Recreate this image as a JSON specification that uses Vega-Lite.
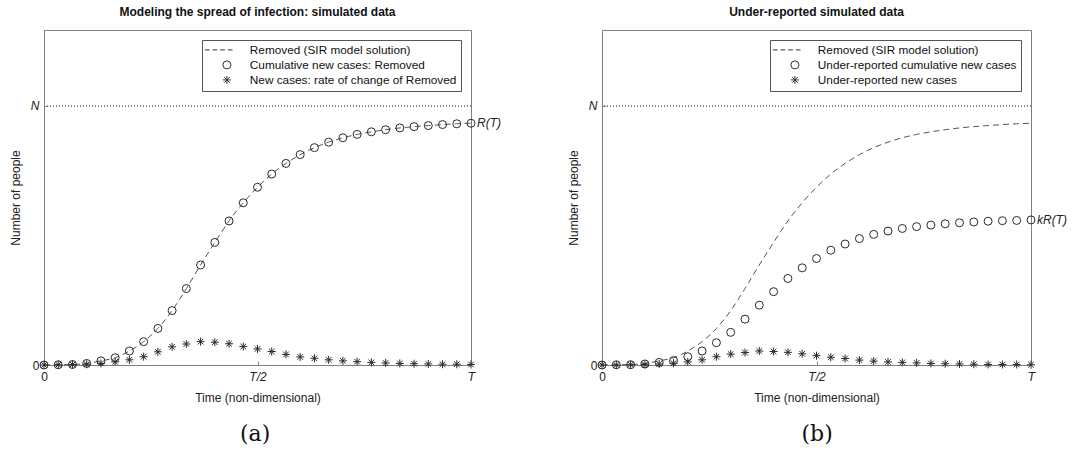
{
  "$schema": "https://vega.github.io/schema/vega-lite/v6.json",
  "padding": {"left": 8, "top": 5, "right": 0, "bottom": 0},
  "background": "white",
  "config": {
    "font": "Liberation Sans",
    "view": {"stroke": "#808080", "strokeWidth": 1},
    "axis": {"domain": false, "grid": false, "ticks": true, "tickColor": "#808080", "tickSize": -4, "labelFontSize": 12, "titleFontSize": 12, "titleFontWeight": "normal", "labelColor": "#222", "titleColor": "#222", "labelFont": "Liberation Sans", "titleFont": "Liberation Sans"},
    "title": {"fontSize": 12, "fontWeight": "bold", "color": "#111", "font": "Liberation Sans", "offset": 11}
  },
  "datasets": {
    "a": [
      {"t":0,"R":0,"C":0,"S":0},{"t":1,"R":0.001,"C":0.001,"S":0.001},{"t":2,"R":0.002,"C":0.002,"S":0.002},{"t":3,"R":0.006,"C":0.006,"S":0.003},{"t":4,"R":0.016,"C":0.016,"S":0.006},{"t":5,"R":0.028,"C":0.028,"S":0.012},{"t":6,"R":0.054,"C":0.054,"S":0.02},{"t":7,"R":0.09,"C":0.09,"S":0.032},{"t":8,"R":0.141,"C":0.141,"S":0.051},{"t":9,"R":0.21,"C":0.21,"S":0.07},{"t":10,"R":0.295,"C":0.295,"S":0.081},{"t":11,"R":0.386,"C":0.386,"S":0.09},{"t":12,"R":0.473,"C":0.473,"S":0.088},{"t":13,"R":0.556,"C":0.556,"S":0.082},{"t":14,"R":0.626,"C":0.626,"S":0.071},{"t":15,"R":0.686,"C":0.686,"S":0.062},{"t":16,"R":0.737,"C":0.737,"S":0.052},{"t":17,"R":0.778,"C":0.778,"S":0.041},{"t":18,"R":0.812,"C":0.812,"S":0.031},{"t":19,"R":0.839,"C":0.839,"S":0.026},{"t":20,"R":0.86,"C":0.86,"S":0.02},{"t":21,"R":0.877,"C":0.877,"S":0.016},{"t":22,"R":0.89,"C":0.89,"S":0.013},{"t":23,"R":0.9,"C":0.9,"S":0.01},{"t":24,"R":0.908,"C":0.908,"S":0.008},{"t":25,"R":0.915,"C":0.915,"S":0.006},{"t":26,"R":0.92,"C":0.92,"S":0.005},{"t":27,"R":0.924,"C":0.924,"S":0.004},{"t":28,"R":0.928,"C":0.928,"S":0.003},{"t":29,"R":0.931,"C":0.931,"S":0.003},{"t":30,"R":0.933,"C":0.933,"S":0.002}
    ],
    "b": [
      {"t":0,"R":0,"C":0,"S":0},{"t":1,"R":0.001,"C":0.001,"S":0},{"t":2,"R":0.002,"C":0.001,"S":0.001},{"t":3,"R":0.006,"C":0.004,"S":0.002},{"t":4,"R":0.016,"C":0.01,"S":0.004},{"t":5,"R":0.028,"C":0.017,"S":0.007},{"t":6,"R":0.054,"C":0.032,"S":0.012},{"t":7,"R":0.09,"C":0.054,"S":0.02},{"t":8,"R":0.141,"C":0.086,"S":0.032},{"t":9,"R":0.21,"C":0.126,"S":0.042},{"t":10,"R":0.295,"C":0.177,"S":0.048},{"t":11,"R":0.386,"C":0.231,"S":0.054},{"t":12,"R":0.473,"C":0.283,"S":0.052},{"t":13,"R":0.556,"C":0.334,"S":0.049},{"t":14,"R":0.626,"C":0.375,"S":0.043},{"t":15,"R":0.686,"C":0.411,"S":0.036},{"t":16,"R":0.737,"C":0.443,"S":0.03},{"t":17,"R":0.778,"C":0.467,"S":0.025},{"t":18,"R":0.812,"C":0.488,"S":0.019},{"t":19,"R":0.839,"C":0.504,"S":0.015},{"t":20,"R":0.86,"C":0.517,"S":0.012},{"t":21,"R":0.877,"C":0.527,"S":0.01},{"t":22,"R":0.89,"C":0.534,"S":0.008},{"t":23,"R":0.9,"C":0.54,"S":0.006},{"t":24,"R":0.908,"C":0.545,"S":0.005},{"t":25,"R":0.915,"C":0.549,"S":0.004},{"t":26,"R":0.92,"C":0.552,"S":0.003},{"t":27,"R":0.924,"C":0.555,"S":0.002},{"t":28,"R":0.928,"C":0.557,"S":0.002},{"t":29,"R":0.931,"C":0.558,"S":0.002},{"t":30,"R":0.933,"C":0.56,"S":0.001}
    ]
  },
  "spacing": 64,
  "resolve": {"scale": {"shape": "independent"}, "legend": {"shape": "independent"}},
  "hconcat": [
    {
      "title": {"text": "(a)", "orient": "bottom", "anchor": "middle", "font": "DejaVu Serif", "fontSize": 22, "fontWeight": "normal", "color": "#111", "offset": 20},
      "resolve": {"scale": {"shape": "independent"}, "legend": {"shape": "independent"}},
      "vconcat": [
        {
          "width": 427, "height": 335,
          "title": {"text": "Modeling the spread of infection: simulated data", "anchor": "middle", "frame": "group"},
          "data": {"name": "a"},
          "layer": [
            {"mark": {"type": "rule", "strokeDash": [1, 2], "color": "#888", "strokeWidth": 1}, "encoding": {"y": {"datum": 1, "type": "quantitative", "scale": {"domain": [0, 1.293], "nice": false}}}},
            {"mark": {"type": "line", "strokeDash": [6, 4], "color": "#555", "strokeWidth": 1, "interpolate": "monotone"},
             "encoding": {
               "x": {"field": "t", "type": "quantitative", "scale": {"domain": [0, 30], "nice": false}, "axis": {"values": [0, 15, 30], "labelExpr": "datum.value == 0 ? '0' : datum.value == 15 ? 'T/2' : 'T'", "labelFontStyle": {"condition": {"test": "datum.value > 0", "value": "italic"}, "value": "normal"}, "labelFlush": false, "labelPadding": 10, "title": "Time (non-dimensional)", "titlePadding": 10}},
               "y": {"field": "R", "type": "quantitative", "scale": {"domain": [0, 1.293], "nice": false}, "axis": {"values": [0, 1], "labelExpr": "datum.value == 0 ? '0' : 'N'", "labelFontStyle": {"condition": {"test": "datum.value == 1", "value": "italic"}, "value": "normal"}, "labelPadding": 9, "title": "Number of people", "titlePadding": 8}}
             }},
            {"transform": [{"fold": ["C", "S"], "as": ["k", "v"]}],
             "mark": {"type": "point", "filled": false, "strokeWidth": 1, "color": "#2a2a2a", "size": 64, "opacity": 1},
             "encoding": {
               "x": {"field": "t", "type": "quantitative"},
               "y": {"field": "v", "type": "quantitative", "title": "Number of people"},
               "shape": {"field": "k", "type": "nominal",
                 "scale": {"domain": ["R", "C", "S"], "range": ["M-5.5,0H-4.3M-3.6,0H-2.4M-1.7,0H-0.5M0.2,0H1.4", "circle", "M0,-1V1M-1,0H1M-0.7,-0.7L0.7,0.7M-0.7,0.7L0.7,-0.7"]},
                 "legend": {"title": null, "orient": "top-right", "offset": 10, "strokeColor": "#555", "fillColor": "white", "padding": 4, "labelFontSize": 11.8, "labelFont": "Liberation Sans", "labelColor": "#111", "labelLimit": 400, "symbolSize": 64, "symbolStrokeWidth": 1, "symbolStrokeColor": "#333", "symbolOffset": 15, "labelOffset": 17, "rowPadding": 1,
                   "labelExpr": "datum.value == 'R' ? 'Removed (SIR model solution)' : datum.value == 'C' ? 'Cumulative new cases: Removed' : 'New cases: rate of change of Removed'"}}
             }},
            {"transform": [{"filter": "datum.t == 30"}],
             "mark": {"type": "text", "align": "left", "baseline": "middle", "dx": 6, "fontStyle": "italic", "fontSize": 12, "color": "#222", "text": "R(T)"},
             "encoding": {"x": {"field": "t", "type": "quantitative"}, "y": {"field": "C", "type": "quantitative"}}}
          ]
        }
      ]
    },
    {
      "title": {"text": "(b)", "orient": "bottom", "anchor": "middle", "font": "DejaVu Serif", "fontSize": 22, "fontWeight": "normal", "color": "#111", "offset": 20},
      "resolve": {"scale": {"shape": "independent"}, "legend": {"shape": "independent"}},
      "vconcat": [
        {
          "width": 429, "height": 335,
          "title": {"text": "Under-reported simulated data", "anchor": "middle", "frame": "group"},
          "data": {"name": "b"},
          "layer": [
            {"mark": {"type": "rule", "strokeDash": [1, 2], "color": "#888", "strokeWidth": 1}, "encoding": {"y": {"datum": 1, "type": "quantitative", "scale": {"domain": [0, 1.293], "nice": false}}}},
            {"mark": {"type": "line", "strokeDash": [6, 4], "color": "#555", "strokeWidth": 1, "interpolate": "monotone"},
             "encoding": {
               "x": {"field": "t", "type": "quantitative", "scale": {"domain": [0, 30], "nice": false}, "axis": {"values": [0, 15, 30], "labelExpr": "datum.value == 0 ? '0' : datum.value == 15 ? 'T/2' : 'T'", "labelFontStyle": {"condition": {"test": "datum.value > 0", "value": "italic"}, "value": "normal"}, "labelFlush": false, "labelPadding": 10, "title": "Time (non-dimensional)", "titlePadding": 10}},
               "y": {"field": "R", "type": "quantitative", "scale": {"domain": [0, 1.293], "nice": false}, "axis": {"values": [0, 1], "labelExpr": "datum.value == 0 ? '0' : 'N'", "labelFontStyle": {"condition": {"test": "datum.value == 1", "value": "italic"}, "value": "normal"}, "labelPadding": 9, "title": "Number of people", "titlePadding": 8}}
             }},
            {"transform": [{"fold": ["C", "S"], "as": ["k", "v"]}],
             "mark": {"type": "point", "filled": false, "strokeWidth": 1, "color": "#2a2a2a", "size": 64, "opacity": 1},
             "encoding": {
               "x": {"field": "t", "type": "quantitative"},
               "y": {"field": "v", "type": "quantitative", "title": "Number of people"},
               "shape": {"field": "k", "type": "nominal",
                 "scale": {"domain": ["R", "C", "S"], "range": ["M-5.5,0H-4.3M-3.6,0H-2.4M-1.7,0H-0.5M0.2,0H1.4", "circle", "M0,-1V1M-1,0H1M-0.7,-0.7L0.7,0.7M-0.7,0.7L0.7,-0.7"]},
                 "legend": {"title": null, "orient": "top-right", "offset": 10, "strokeColor": "#555", "fillColor": "white", "padding": 4, "labelFontSize": 11.8, "labelFont": "Liberation Sans", "labelColor": "#111", "labelLimit": 400, "symbolSize": 64, "symbolStrokeWidth": 1, "symbolStrokeColor": "#333", "symbolOffset": 15, "labelOffset": 17, "rowPadding": 1,
                   "labelExpr": "datum.value == 'R' ? 'Removed (SIR model solution)' : datum.value == 'C' ? 'Under-reported cumulative new cases' : 'Under-reported new cases'"}}
             }},
            {"transform": [{"filter": "datum.t == 30"}],
             "mark": {"type": "text", "align": "left", "baseline": "middle", "dx": 6, "fontStyle": "italic", "fontSize": 12, "color": "#222", "text": "kR(T)"},
             "encoding": {"x": {"field": "t", "type": "quantitative"}, "y": {"field": "C", "type": "quantitative"}}}
          ]
        }
      ]
    }
  ]
}
